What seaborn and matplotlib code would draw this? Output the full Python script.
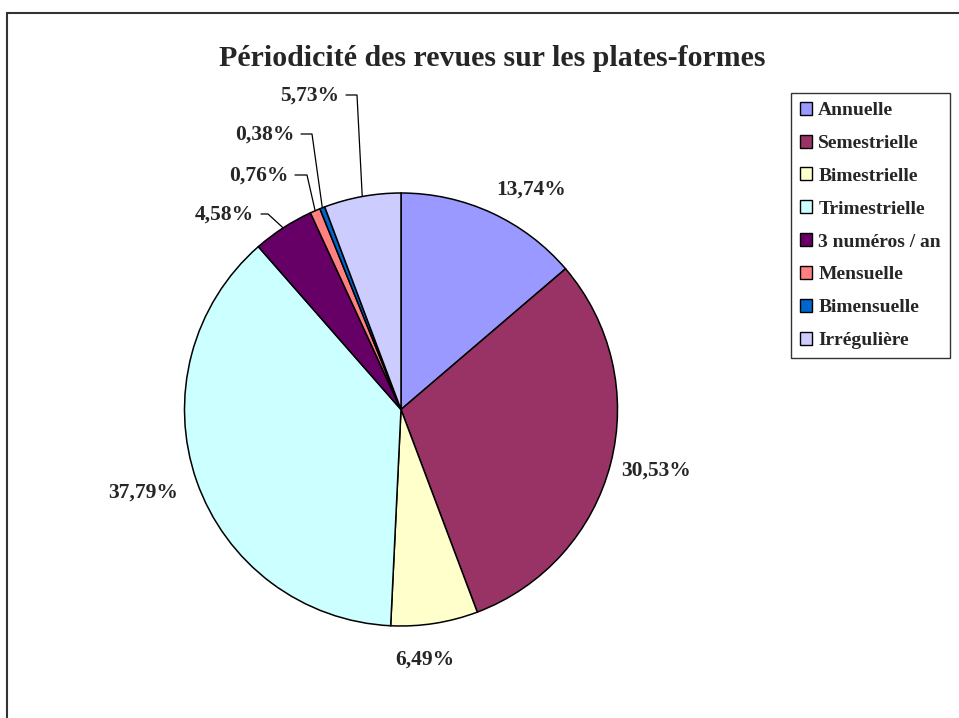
import numpy as np
import matplotlib
matplotlib.use('Agg')
import matplotlib.pyplot as plt
import seaborn as sns
from matplotlib.patches import Patch, Rectangle

# data
categories = ['Annuelle', 'Semestrielle', 'Bimestrielle', 'Trimestrielle',
              '3 numéros / an', 'Mensuelle', 'Bimensuelle', 'Irrégulière']
shares = [13.74, 30.53, 6.49, 37.79, 4.58, 0.76, 0.38, 5.73]
colors = ['#9999FF', '#993366', '#FFFFCC', '#CCFFFF',
          '#660066', '#FF8080', '#0066CC', '#CCCCFF']
title = 'Périodicité des revues sur les plates-formes'

sns.set_theme(style='white')
plt.rcParams['font.family'] = ['Liberation Serif', 'DejaVu Serif']
plt.rcParams['font.weight'] = 'bold'

W, H = 959, 718
CX, CY, R = 401, 409.5, 216.5   # pie centre / radius in pixels


def px(x, y):
    # pixel position (from top left) -> data units of the pie axes
    return (x - CX) / R, (CY - y) / R


fig = plt.figure(figsize=(W / 100, H / 100), dpi=100)
ax = fig.add_axes([0, 0, 1, 1])

wedges, _ = ax.pie(shares, colors=sns.color_palette(colors), startangle=90,
                   counterclock=False, radius=1,
                   wedgeprops=dict(edgecolor='black', linewidth=1.1))

x0, y0 = px(0, H)
x1, y1 = px(W, 0)
ax.set_xlim(x0, x1)
ax.set_ylim(y0, y1)
ax.set_aspect('equal', adjustable='datalim')
ax.axis('off')

labels = [f'{v:.2f}%'.replace('.', ',') for v in shares]
lab_fs = 15.5

# big slices: labels placed freely
big_pos = {0: (531, 190), 1: (656, 471), 2: (425, 660), 3: (143, 493)}
for i, (x, y) in big_pos.items():
    ax.text(*px(x, y), labels[i], ha='center', va='center',
            fontsize=lab_fs, fontweight='bold')

# small slices: label with a leader line (text right edge, elbow x)
small_pos = {4: (254, 215, 268), 5: (288, 176, 307),
             6: (294, 135, 312), 7: (339, 96, 357)}
for i, (xr, y, xe) in small_pos.items():
    ax.text(*px(xr, y), labels[i], ha='right', va='center',
            fontsize=lab_fs, fontweight='bold')
    w = wedges[i]
    mid = np.deg2rad((w.theta1 + w.theta2) / 2)
    ex, ey = np.cos(mid), np.sin(mid)
    sx, sy = px(xr + 7, y - 1)
    bx, by = px(xe, y - 1)
    ax.plot([sx, bx, ex], [sy, by, ey], color='black', lw=0.9)

fig.text(492 / W, 1 - 58 / H, title, ha='center', va='center',
         fontsize=21.5, fontweight='bold')

# legend
handles = [Patch(facecolor=c, edgecolor='black', linewidth=1) for c in colors]
leg = fig.legend(handles, categories, loc='upper left',
                 bbox_to_anchor=(791 / W, 1 - 93 / H), bbox_transform=fig.transFigure,
                 borderaxespad=0, fancybox=False, frameon=True,
                 handlelength=0.65, handleheight=0.65, handletextpad=0.3,
                 labelspacing=0.8, borderpad=0.45,
                 prop=dict(size=14, weight='bold'))
leg.get_frame().set_edgecolor('black')
leg.get_frame().set_linewidth(1)

# outer chart frame (only top and left visible in the crop)
fig.patches.append(Rectangle((7 / W, -0.05), 1.1, 1 - 13 / H + 0.05,
                             transform=fig.transFigure, fill=False,
                             edgecolor='#333333', linewidth=1.5))

fig.savefig('out.png', dpi=100)
